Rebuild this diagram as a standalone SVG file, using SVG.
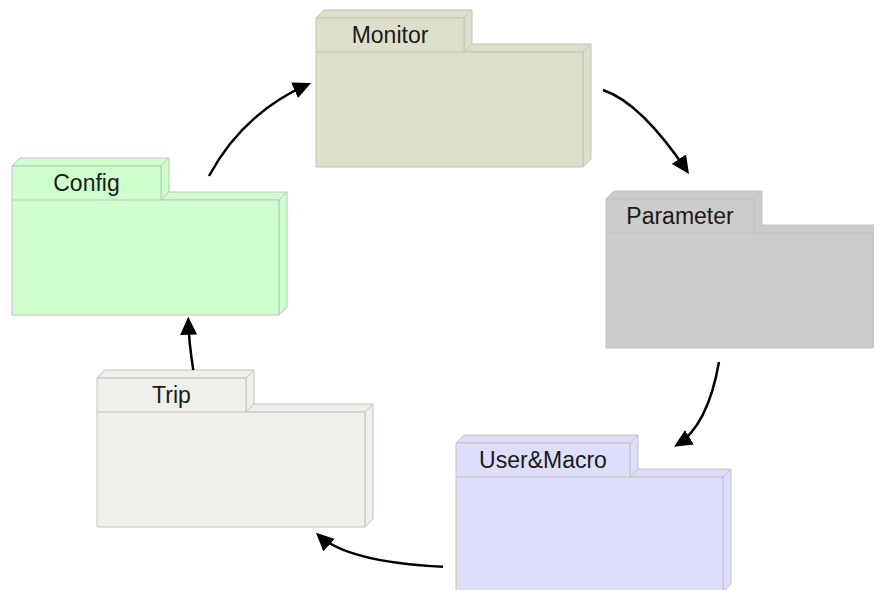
<svg xmlns="http://www.w3.org/2000/svg" width="874" height="590" viewBox="0 0 874 590">
  <defs>
    <style>
      .pkg path, .pkg polygon { stroke: #c2c2c2; stroke-width: 1; stroke-linejoin: miter; }
      .lbl { font-family: "Liberation Sans", Arial, sans-serif; font-size: 23px; fill: #1a1a1a; text-anchor: middle; }
      .conn { fill: none; stroke: #000; stroke-width: 2.5; stroke-linecap: butt; }
      #monitor polygon { fill: #dde0c9; }
      #config polygon { fill: #ccffcc; }
      #parameter polygon { fill: #cccccc; }
      #usermacro polygon { fill: #dedefa; }
      #trip polygon { fill: #f0f0ea; }
    </style>
    <marker id="arrow" viewBox="0 0 18 17" markerUnits="userSpaceOnUse" markerWidth="18" markerHeight="17" refX="15" refY="8.5" orient="auto">
      <path d="M0,0 L18,8.5 L0,17 z" fill="#000"/>
    </marker>
  </defs>
  <rect width="874" height="590" fill="#ffffff"/>

  <g id="monitor" class="pkg" transform="translate(316,18)">
    <polygon points="0,0 8,-8 156,-8 148,0"/>
    <polygon points="148,0 156,-8 156,26 148,34"/>
    <polygon points="148,34 156,26 275,26 267,34"/>
    <polygon points="267,34 275,26 275,141 267,149"/>
    <polygon points="0,0 148,0 148,34 267,34 267,149 0,149"/>
    <path d="M0,34 H148" fill="none"/>
    <text class="lbl" x="74" y="25">Monitor</text>
  </g>

  <g id="config" class="pkg" transform="translate(12,166)">
    <polygon points="0,0 8,-8 157,-8 149,0"/>
    <polygon points="149,0 157,-8 157,26 149,34"/>
    <polygon points="149,34 157,26 275,26 267,34"/>
    <polygon points="267,34 275,26 275,141 267,149"/>
    <polygon points="0,0 149,0 149,34 267,34 267,149 0,149"/>
    <path d="M0,34 H149" fill="none"/>
    <text class="lbl" x="74.5" y="25">Config</text>
  </g>

  <g id="parameter" class="pkg" transform="translate(606,199)">
    <polygon points="0,0 8,-8 156,-8 148,0"/>
    <polygon points="148,0 156,-8 156,26 148,34"/>
    <polygon points="148,34 156,26 275,26 267,34"/>
    <polygon points="267,34 275,26 275,141 267,149"/>
    <polygon points="0,0 148,0 148,34 267,34 267,149 0,149"/>
    <path d="M0,34 H148" fill="none"/>
    <text class="lbl" x="74" y="25">Parameter</text>
  </g>

  <g id="usermacro" class="pkg" transform="translate(456,443)">
    <polygon points="0,0 8,-8 182,-8 174,0"/>
    <polygon points="174,0 182,-8 182,26 174,34"/>
    <polygon points="174,34 182,26 275,26 267,34"/>
    <polygon points="267,34 275,26 275,141 267,149"/>
    <polygon points="0,0 174,0 174,34 267,34 267,149 0,149"/>
    <path d="M0,34 H174" fill="none"/>
    <text class="lbl" x="87" y="25">User&amp;Macro</text>
  </g>

  <g id="trip" class="pkg" transform="translate(97,378)">
    <polygon points="0,0 8,-8 157,-8 149,0"/>
    <polygon points="149,0 157,-8 157,26 149,34"/>
    <polygon points="149,34 157,26 276,26 268,34"/>
    <polygon points="268,34 276,26 276,141 268,149"/>
    <polygon points="0,0 149,0 149,34 268,34 268,149 0,149"/>
    <path d="M0,34 H149" fill="none"/>
    <text class="lbl" x="74.5" y="25">Trip</text>
  </g>

  <g id="connectors">
    <path class="conn" d="M209,176 Q243,113 308.3,84.2" marker-end="url(#arrow)"/>
    <path class="conn" d="M603,90 Q641,102.7 687.3,171.5" marker-end="url(#arrow)"/>
    <path class="conn" d="M719,362 Q707.7,426.3 676.6,445.1" marker-end="url(#arrow)"/>
    <path class="conn" d="M443,566.7 Q347,561.9 318.2,534.8" marker-end="url(#arrow)"/>
    <path class="conn" d="M193.3,370 Q188.8,342 188.3,319.7" marker-end="url(#arrow)"/>
  </g>
</svg>
